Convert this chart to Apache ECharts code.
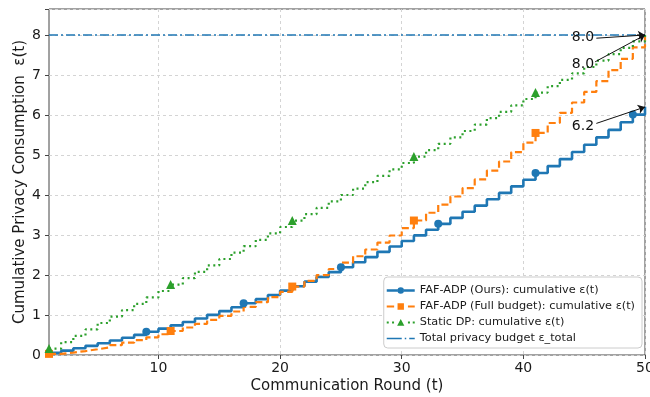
<!DOCTYPE html>
<html>
<head>
<meta charset="utf-8">
<script src="https://cdn.jsdelivr.net/npm/echarts@6/dist/echarts.min.js"></script>
<style>
  html, body { margin: 0; padding: 0; background: #fff; }
  #chart { width: 650px; height: 397px; }
</style>
</head>
<body>
<div id="chart"></div>
<script>
// communication rounds
const rounds = [1, 2, 3, 4, 5, 6, 7, 8, 9, 10, 11, 12, 13, 14, 15, 16, 17, 18, 19, 20,
  21, 22, 23, 24, 25, 26, 27, 28, 29, 30, 31, 32, 33, 34, 35, 36, 37, 38, 39, 40,
  41, 42, 43, 44, 45, 46, 47, 48, 49, 50];

// cumulative eps(t)
const oursEps = [0.053, 0.109, 0.167, 0.229, 0.293, 0.361, 0.431, 0.504, 0.580, 0.659,
  0.741, 0.826, 0.914, 1.004, 1.098, 1.194, 1.294, 1.396, 1.501, 1.609,
  1.720, 1.834, 1.951, 2.071, 2.193, 2.319, 2.447, 2.579, 2.713, 2.850,
  2.990, 3.133, 3.279, 3.428, 3.580, 3.734, 3.892, 4.052, 4.216, 4.382,
  4.551, 4.723, 4.898, 5.076, 5.257, 5.441, 5.628, 5.817, 6.010, 6.205];
const fullEps = [0.028, 0.061, 0.099, 0.143, 0.192, 0.247, 0.307, 0.372, 0.443, 0.519,
  0.600, 0.687, 0.779, 0.877, 0.980, 1.088, 1.202, 1.321, 1.446, 1.576,
  1.711, 1.852, 1.998, 2.150, 2.307, 2.469, 2.637, 2.810, 2.988, 3.172,
  3.362, 3.556, 3.757, 3.962, 4.173, 4.389, 4.611, 4.838, 5.070, 5.308,
  5.551, 5.800, 6.054, 6.313, 6.578, 6.848, 7.124, 7.405, 7.691, 7.983];
const staticEps = [0.16, 0.32, 0.48, 0.64, 0.80, 0.96, 1.12, 1.28, 1.44, 1.60,
  1.76, 1.92, 2.08, 2.24, 2.40, 2.56, 2.72, 2.88, 3.04, 3.20,
  3.36, 3.52, 3.68, 3.84, 4.00, 4.16, 4.32, 4.48, 4.64, 4.80,
  4.96, 5.12, 5.28, 5.44, 5.60, 5.76, 5.92, 6.08, 6.24, 6.40,
  6.56, 6.72, 6.88, 7.04, 7.20, 7.36, 7.52, 7.68, 7.84, 8.00];
const totalBudget = 8.0;

const xTicks = [10, 20, 30, 40, 50];
const seriesNames = [
  'FAF-ADP (Ours): cumulative ε(t)',
  'FAF-ADP (Full budget): cumulative ε(t)',
  'Static DP: cumulative ε(t)',
  'Total privacy budget ε_total'
];

// annotations: label, text anchor, arrow tail, arrow head (data coords)
const annoLabels = ['8.0', '8.0', '6.2'];
const annoText = [[44.9, 7.94], [44.9, 7.27], [44.9, 5.72]];
const annoFrom = [[46.0, 7.92], [45.9, 7.33], [46.0, 5.79]];
const annoTo = [[50, 8.0], [50, 8.0], [50, 6.2]];

const FONT = 'DejaVu Sans';
const C_BLUE = '#1f77b4', C_ORANGE = '#ff7f0e', C_GREEN = '#2ca02c';

// legend glyphs (line + marker) in a 28 x 8 box, pieces kept apart so the fill has no holes
const ICON_OURS = 'path://M0,0h0.01v8h-0.01z M0,2.8h10.9v2.4h-10.9z M17.1,2.8h10.9v2.4h-10.9z M10.8,4a3.2,3.2 0 1,0 6.4,0a3.2,3.2 0 1,0 -6.4,0z';
const ICON_FULL = 'path://M0,0h0.01v8h-0.01z M0,3h7.4v2h-7.4z M21.2,3h6.8v2h-6.8z M10.8,0.8h6.4v6.4h-6.4z';
const ICON_STATIC = 'path://M0,0h0.01v8h-0.01z M0,3h2v2h-2z M5.3,3h2v2h-2z M21.2,3h2v2h-2z M26,3h2v2h-2z M14,0.6L17.6,7.2L10.4,7.2z';
const ICON_TOTAL = 'path://M0,0h0.01v8h-0.01z M0,3.25h15v1.5h-15z M18,3.25h1.5v1.5h-1.5z M22.5,3.25h5.5v1.5h-5.5z';

const pairs = (ys) => rounds.map((r, i) => [r, ys[i]]);

const chart = echarts.init(document.getElementById('chart'), null, { renderer: 'canvas' });

const option = {
  animation: false,
  backgroundColor: '#fff',
  textStyle: { fontFamily: FONT },
  grid: {
    left: 49, right: 5, top: 9, bottom: 42,
    outerBoundsMode: 'none',
    containLabel: false,
    show: true, borderColor: '#444', borderWidth: 1, backgroundColor: 'transparent'
  },
  legend: {
    orient: 'vertical',
    right: 8,
    top: 277,
    padding: [8, 7, 4, 3],
    itemWidth: 28,
    itemHeight: 8,
    itemGap: 5,
    backgroundColor: '#fff',
    borderColor: '#ccc',
    borderWidth: 1,
    borderRadius: 4,
    itemStyle: { borderWidth: 0 },
    textStyle: { fontFamily: FONT, fontSize: 11.3, color: '#1a1a1a' },
    data: [
      { name: seriesNames[0], icon: ICON_OURS },
      { name: seriesNames[1], icon: ICON_FULL },
      { name: seriesNames[2], icon: ICON_STATIC },
      { name: seriesNames[3], icon: ICON_TOTAL }
    ]
  },
  xAxis: {
    type: 'value',
    min: 1,
    max: 50,
    name: 'Communication Round (t)',
    nameLocation: 'middle',
    nameGap: 24,
    nameMoveOverlap: false,
    nameTextStyle: { fontFamily: FONT, fontSize: 15, color: '#1a1a1a' },
    axisLine: { show: false },
    axisTick: { show: true, length: 4, lineStyle: { color: '#444' }, customValues: xTicks },
    axisLabel: { fontFamily: FONT, fontSize: 14, color: '#1a1a1a', margin: 6, customValues: xTicks },
    splitLine: { show: true, lineStyle: { color: '#d4d4d4', type: [3, 3], width: 1 } }
  },
  yAxis: {
    type: 'value',
    min: 0,
    max: 8.65,
    interval: 1,
    name: 'Cumulative Privacy Consumption  ε(t)',
    nameLocation: 'middle',
    nameGap: 21,
    nameMoveOverlap: false,
    nameTextStyle: { fontFamily: FONT, fontSize: 15, color: '#1a1a1a' },
    axisLine: { show: false },
    axisTick: { show: true, length: 4, lineStyle: { color: '#444' } },
    axisLabel: {
      fontFamily: FONT, fontSize: 14, color: '#1a1a1a', margin: 8,
      formatter: (v) => (Number.isInteger(v) ? String(v) : '')
    },
    splitLine: { show: true, lineStyle: { color: '#d4d4d4', type: [3, 3], width: 1 } }
  },
  series: [
    {
      name: seriesNames[0],
      type: 'line',
      step: 'end',
      data: pairs(oursEps),
      color: C_BLUE,
      lineStyle: { width: 2.6, color: C_BLUE },
      symbol: 'circle',
      symbolSize: (v, p) => (p.dataIndex % 8 === 0 ? 8 : 0),
      showAllSymbol: true,
      itemStyle: { color: C_BLUE }
    },
    {
      name: seriesNames[1],
      type: 'line',
      step: 'end',
      data: pairs(fullEps),
      color: C_ORANGE,
      lineStyle: { width: 2.2, color: C_ORANGE, type: [7, 3.5] },
      symbol: 'rect',
      symbolSize: (v, p) => (p.dataIndex % 10 === 0 ? 8 : 0),
      showAllSymbol: true,
      itemStyle: { color: C_ORANGE }
    },
    {
      name: seriesNames[2],
      type: 'line',
      step: 'end',
      data: pairs(staticEps),
      color: C_GREEN,
      lineStyle: { width: 2.2, color: C_GREEN, type: [2, 3.5] },
      symbol: 'triangle',
      symbolSize: (v, p) => (p.dataIndex % 10 === 0 ? 9 : 0),
      showAllSymbol: true,
      itemStyle: { color: C_GREEN }
    },
    {
      name: seriesNames[3],
      type: 'line',
      data: [[rounds[0], totalBudget], [rounds[rounds.length - 1], totalBudget]],
      color: C_BLUE,
      symbol: 'none',
      lineStyle: { width: 1.6, color: C_BLUE, type: [9, 3, 2, 3] },
      markLine: {
        silent: true,
        symbol: ['none', 'arrow'],
        symbolSize: 7,
        label: { show: false },
        lineStyle: { color: '#111', width: 1, type: 'solid' },
        data: annoFrom.map((f, i) => [{ coord: f }, { coord: annoTo[i] }])
      },
      markPoint: {
        silent: true,
        symbol: 'circle',
        symbolSize: 0,
        label: {
          show: true, position: 'inside', color: '#111',
          fontFamily: FONT, fontSize: 14,
          formatter: (p) => p.name
        },
        data: annoText.map((c, i) => ({ name: annoLabels[i], coord: c }))
      }
    }
  ]
};

chart.setOption(option);
</script>
</body>
</html>
